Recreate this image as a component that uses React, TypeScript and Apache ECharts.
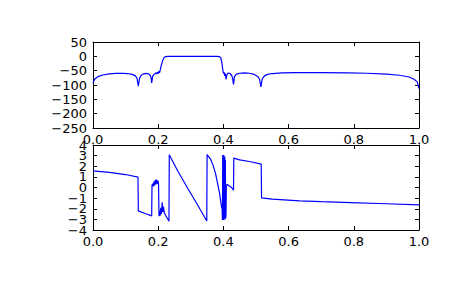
import React, { useEffect, useRef } from "react";
import * as echarts from "echarts";

const xTicks = [0, 0.2, 0.4, 0.6, 0.8, 1.0];
const magTicks = [50, 0, -50, -100, -150, -200, -250];
const phaseTicks = [4, 3, 2, 1, 0, -1, -2, -3, -4];

const magFreq = [
  0.0, 0.005, 0.015, 0.03, 0.05, 0.07, 0.09, 0.105, 0.12, 0.13, 0.135, 0.139,
  0.143, 0.148, 0.156, 0.163, 0.17, 0.175, 0.178, 0.18, 0.183, 0.187, 0.191,
  0.194, 0.196, 0.198, 0.2, 0.202, 0.204, 0.207, 0.21, 0.214, 0.218, 0.222,
  0.23, 0.3, 0.38, 0.388, 0.392, 0.395, 0.398, 0.4, 0.402, 0.404, 0.406,
  0.408, 0.411, 0.415, 0.42, 0.425, 0.428, 0.431, 0.434, 0.44, 0.45, 0.465,
  0.48, 0.495, 0.505, 0.511, 0.515, 0.519, 0.525, 0.535, 0.55, 0.58, 0.62,
  0.7, 0.78, 0.84, 0.9, 0.94, 0.97, 0.985, 0.995, 1.0,
];
const magDb = [
  -92, -80, -71, -65, -61, -59.5, -59, -60, -63, -68, -76, -104,
  -76, -66, -61, -59.5, -61, -66, -74, -93, -70, -63, -60,
  -57, -62, -55, -60, -52, -58, -44, -29, -14, -5, -1,
  0, 0, 0, -1, -5, -20, -45, -60, -55, -68, -60,
  -80, -62, -58, -60, -66, -74, -98, -71, -62, -59, -58,
  -59, -63, -70, -80, -107, -79, -69, -63, -60, -58, -57,
  -57, -57.5, -59, -62, -66, -72, -80, -90, -113,
];

const phaseFreq = [
  0.0, 0.05, 0.1, 0.138, 0.139, 0.16, 0.18, 0.181, 0.183, 0.185, 0.187,
  0.189, 0.191, 0.193, 0.195, 0.197, 0.199, 0.201, 0.2025, 0.204, 0.206,
  0.208, 0.21, 0.212, 0.214, 0.216, 0.219, 0.226, 0.233, 0.234, 0.26, 0.29,
  0.32, 0.349, 0.35, 0.36, 0.368, 0.376, 0.383, 0.388, 0.392, 0.395, 0.396,
  0.397, 0.398, 0.399, 0.4, 0.401, 0.402, 0.403, 0.404, 0.405, 0.406, 0.407,
  0.408, 0.409, 0.411, 0.418, 0.425, 0.431, 0.432, 0.45, 0.48, 0.516, 0.517,
  0.55, 0.634, 0.7, 0.79, 0.9, 1.0,
];
const phaseRad = [
  1.57, 1.42, 1.22, 0.97, -2.2, -2.45, -2.67, 0.2, 0.35, 0.1, 0.55,
  0.2, 0.71, 0.3, 0.75, 0.35, 0.65, 0.3, -2.7, -2.2, -2.65,
  -1.9, -2.5, -1.4, -2.3, -1.8, -2.4, -2.8, -3.17, 3.08, 1.55, -0.05,
  -1.6, -3.15, 3.1, 2.7, 2.13, 1.3, 0.24, -0.5, -1.35, -1.97, -1.7,
  -3.05, 3.05, -3.0, 3.05, -3.05, 3.0, -2.8, 2.9, -3.0, 2.6, -2.9,
  -2.5, 0.1, 0.3, 0.15, 0.0, -0.25, 2.77, 2.6, 2.45, 2.2, -0.97,
  -1.1, -1.25, -1.33, -1.42, -1.53, -1.63,
];

const minus = (v: number) => String(v).replace("-", "\u2212");

export default function App() {
  const ref = useRef<HTMLDivElement>(null);
  useEffect(() => {
    if (!ref.current) return;
    const chart = echarts.init(ref.current, undefined, { renderer: "svg" });
    const font = "DejaVu Sans";
    const fontSize = 13;
    const line = { show: true, onZero: false, lineStyle: { color: "#000", width: 1 } };
    const tick = { show: true, inside: true, length: 4, lineStyle: { color: "#000", width: 1 } };
    const label = {
      color: "#000",
      fontSize,
      fontFamily: font,
      showMinLabel: true,
      showMaxLabel: true,
      hideOverlap: false,
    };
    const xAxisDef = (gridIndex: number, position: string, showLabel: boolean) => ({
      type: "value",
      gridIndex,
      position,
      min: xTicks[0],
      max: xTicks[xTicks.length - 1],
      interval: 0.2,
      axisLine: line,
      axisTick: tick,
      splitLine: { show: false },
      axisLabel: {
        ...label,
        show: showLabel,
        margin: 5,
        formatter: (v: number) => v.toFixed(1),
      },
    });
    const yAxisDef = (
      gridIndex: number,
      position: string,
      showLabel: boolean,
      ticks: number[],
      interval: number
    ) => ({
      type: "value",
      gridIndex,
      position,
      min: ticks[ticks.length - 1],
      max: ticks[0],
      interval,
      axisLine: line,
      axisTick: tick,
      splitLine: { show: false },
      axisLabel: {
        ...label,
        show: showLabel,
        margin: 6,
        formatter: (v: number) => minus(v),
      },
    });
    chart.setOption({
      animation: false,
      backgroundColor: "#fff",
      grid: [
        { left: 93, top: 42, width: 326, height: 86 },
        { left: 93, top: 145, width: 326, height: 85 },
      ],
      xAxis: [
        xAxisDef(0, "bottom", true),
        xAxisDef(0, "top", false),
        xAxisDef(1, "bottom", true),
        xAxisDef(1, "top", false),
      ],
      yAxis: [
        yAxisDef(0, "left", true, magTicks, 50),
        yAxisDef(0, "right", false, magTicks, 50),
        yAxisDef(1, "left", false, phaseTicks, 1),
        yAxisDef(1, "right", false, phaseTicks, 1),
      ],
      series: [
        {
          type: "line",
          xAxisIndex: 0,
          yAxisIndex: 0,
          data: magFreq.map((f, i) => [f, magDb[i]]),
          showSymbol: false,
          lineStyle: { color: "#0000ff", width: 1.2 },
          clip: true,
        },
        {
          type: "line",
          xAxisIndex: 2,
          yAxisIndex: 2,
          data: phaseFreq.map((f, i) => [f, phaseRad[i]]),
          showSymbol: false,
          lineStyle: { color: "#0000ff", width: 1.2 },
          clip: true,
        },
      ],
    });
    const x0 = chart.convertToPixel({ xAxisIndex: 2 }, 0) as number;
    chart.setOption({
      graphic: phaseTicks.map((t) => ({
        type: "text",
        x: x0 - 6,
        y: chart.convertToPixel({ yAxisIndex: 2 }, t) as number,
        silent: true,
        style: {
          text: minus(t),
          fill: "#000",
          font: `${fontSize}px "${font}"`,
          fontSize,
          fontFamily: font,
          align: "right",
          verticalAlign: "middle",
          textAlign: "right",
          textVerticalAlign: "middle",
        },
      })),
    });
    return () => chart.dispose();
  }, []);
  return (
    <div
      ref={ref}
      style={{ position: "fixed", left: 0, top: 0, width: 465, height: 288, background: "#fff" }}
    />
  );
}
